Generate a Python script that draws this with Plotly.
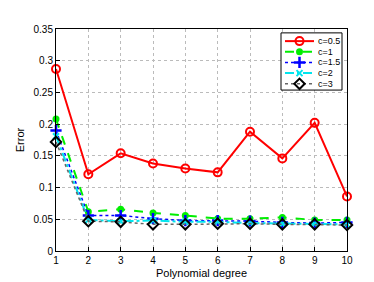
import plotly.graph_objects as go

degrees = [1, 2, 3, 4, 5, 6, 7, 8, 9, 10]
err_c05 = [0.287, 0.121, 0.154, 0.138, 0.130, 0.124, 0.188, 0.146, 0.202, 0.086]
err_c1 = [0.208, 0.062, 0.066, 0.060, 0.056, 0.051, 0.051, 0.053, 0.049, 0.049]
err_c15 = [0.190, 0.056, 0.056, 0.051, 0.048, 0.048, 0.047, 0.045, 0.044, 0.045]
err_c2 = [0.181, 0.049, 0.047, 0.048, 0.046, 0.046, 0.044, 0.043, 0.043, 0.042]
err_c3 = [0.172, 0.047, 0.046, 0.042, 0.042, 0.043, 0.043, 0.042, 0.042, 0.041]
series_names = ["c=0.5", "c=1", "c=1.5", "c=2", "c=3"]
y_ticks = [0, 0.05, 0.1, 0.15, 0.2, 0.25, 0.3, 0.35]
y_labels = ["0", "0.05", "0.1", "0.15", "0.2", "0.25", "0.3", "0.35"]

styles = [
    dict(line=dict(color="#ff0000", width=2, dash="solid"),
         marker=dict(symbol="circle-open", size=8, color="#ff0000", line=dict(width=2, color="#ff0000"))),
    dict(line=dict(color="#00ee00", width=2, dash="dash"),
         marker=dict(symbol="circle", size=7, color="#00ee00", line=dict(width=0))),
    dict(line=dict(color="#0000ff", width=1.5, dash="dot"),
         marker=dict(symbol="cross-thin-open", size=8, color="#0000ff", line=dict(width=2.5, color="#0000ff"))),
    dict(line=dict(color="#00e5ee", width=2, dash="dashdot"),
         marker=dict(symbol="x-thin-open", size=6, color="#00e5ee", line=dict(width=2, color="#00e5ee"))),
    dict(line=dict(color="#666666", width=1.5, dash="dot"),
         marker=dict(symbol="diamond-open", size=8, color="#000000", line=dict(width=2, color="#000000"))),
]
all_series = [err_c05, err_c1, err_c15, err_c2, err_c3]

fig = go.Figure()
for name, ys, st in zip(series_names, all_series, styles):
    fig.add_trace(go.Scatter(x=degrees, y=ys, name=name, mode="lines+markers",
                             line=st["line"], marker=st["marker"], cliponaxis=False,
                             showlegend=False))

# --- compact MATLAB-style legend on an overlay axis in pixel units ---
PX_L, PX_R, PX_T, PX_B = 48, 339, 21, 250
box_x0, box_x1, box_y0, box_y1 = 273, 334, 25, 84
row_y0, row_step = 33.5, 11
samp_x0, samp_x1, samp_xm, text_x = 277, 306, 291.5, 308

fig.add_trace(go.Scatter(x=[box_x0, box_x1, box_x1, box_x0, box_x0],
                         y=[box_y0, box_y0, box_y1, box_y1, box_y0],
                         xaxis="x2", yaxis="y2", mode="lines", fill="toself",
                         fillcolor="#ffffff", line=dict(color="#000000", width=1),
                         showlegend=False, hoverinfo="skip"))
for i, (name, st) in enumerate(zip(series_names, styles)):
    ry = row_y0 + i * row_step
    fig.add_trace(go.Scatter(x=[samp_x0, samp_x1], y=[ry, ry], xaxis="x2", yaxis="y2",
                             mode="lines", line=st["line"], showlegend=False, hoverinfo="skip"))
    fig.add_trace(go.Scatter(x=[samp_xm], y=[ry], xaxis="x2", yaxis="y2",
                             mode="markers", marker=st["marker"], showlegend=False,
                             hoverinfo="skip", cliponaxis=False))
    fig.add_annotation(x=text_x, y=ry, xref="x2", yref="y2", text=name, showarrow=False,
                       xanchor="left", yanchor="middle", font=dict(size=9, color="#000000"))

axis_common = dict(showline=True, linecolor="#000000", linewidth=1, mirror=True,
                   ticks="inside", ticklen=4, tickcolor="#000000",
                   showgrid=True, gridcolor="#bbbbbb", griddash="dot", gridwidth=1,
                   zeroline=False, tickfont=dict(size=10, color="#000000"))

fig.update_layout(
    xaxis=dict(range=[1, 10], tickvals=degrees, ticktext=[str(d) for d in degrees],
               title=dict(text="Polynomial degree", font=dict(size=11, color="#000000"), standoff=4),
               **axis_common),
    yaxis=dict(range=[0, 0.35], tickvals=y_ticks, ticktext=y_labels,
               title=dict(text="Error", font=dict(size=11, color="#000000"), standoff=6),
               **axis_common),
    xaxis2=dict(overlaying="x", range=[PX_L, PX_R], visible=False, fixedrange=True),
    yaxis2=dict(overlaying="y", range=[PX_B, PX_T], visible=False, fixedrange=True),
    width=374, height=282,
    margin=dict(l=PX_L, r=374 - PX_R, t=PX_T, b=282 - PX_B),
    paper_bgcolor="#ffffff", plot_bgcolor="#ffffff",
    font=dict(family="Liberation Sans, Arial, sans-serif", color="#000000"),
    showlegend=False,
)

fig.write_html("out.html")
